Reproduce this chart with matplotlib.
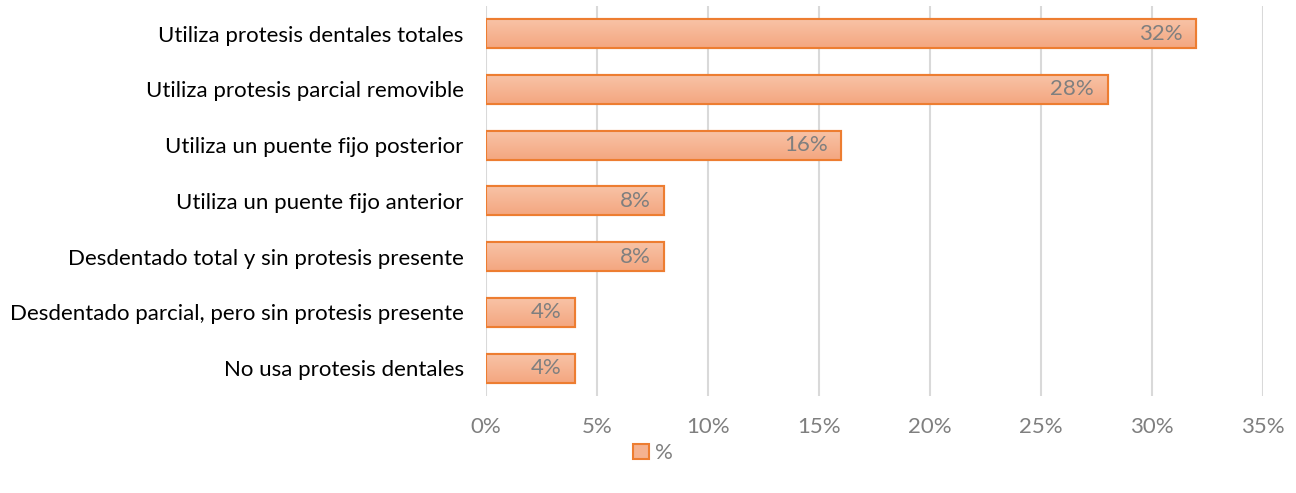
import matplotlib
matplotlib.use("Agg")
import matplotlib.pyplot as plt
import numpy as np
from matplotlib.colors import LinearSegmentedColormap

categories = [
    "Utiliza protesis dentales totales",
    "Utiliza protesis parcial removible",
    "Utiliza un puente fijo posterior",
    "Utiliza un puente fijo anterior",
    "Desdentado total y sin protesis presente",
    "Desdentado parcial, pero sin protesis presente",
    "No usa protesis dentales",
]
values = [32, 28, 16, 8, 8, 4, 4]
xticks = [0, 5, 10, 15, 20, 25, 30, 35]
series_name = "%"

plt.rcParams['font.family'] = ['Lato', 'DejaVu Sans']

fig = plt.figure(figsize=(12.96, 4.93), dpi=100)
ax = fig.add_axes([0.375, 0.197, 0.5995, 0.791])

n = len(categories)
ypos = np.arange(n)[::-1]
bar_h = 0.52
edge = "#ED7D31"
cmap = LinearSegmentedColormap.from_list("g", ["#F4A680", "#F8C3A6"])
grad = np.linspace(0, 1, 64).reshape(-1, 1)

bars = ax.barh(ypos, values, height=bar_h, color="#F5B290", edgecolor=edge,
               linewidth=1.5, zorder=3, label=series_name)
for b in bars:
    x0, y0 = b.get_x(), b.get_y()
    w, h = b.get_width(), b.get_height()
    im = ax.imshow(grad, extent=[x0, x0 + w, y0, y0 + h], aspect='auto',
                   cmap=cmap, origin='lower', zorder=3.5)
    im.set_clip_path(b)
    ax.add_patch(plt.Rectangle((x0, y0), w, h, fill=False, edgecolor=edge,
                               linewidth=1.5, zorder=4))
    ax.text(x0 + w - 0.6, y0 + h / 2, f"{int(w)}%", ha='right', va='center',
            fontsize=16, color="#7F7F7F", zorder=5)

ax.set_xlim(0, 35)
ax.set_ylim(-0.5, n - 0.5)
ax.set_xticks(xticks)
ax.set_xticklabels([f"{t}%" for t in xticks], fontsize=16, color="#7F7F7F")
ax.set_yticks(ypos)
ax.set_yticklabels(categories, fontsize=16, color="#000000")
ax.tick_params(axis='both', length=0)
ax.tick_params(axis='x', pad=15)
ax.tick_params(axis='y', pad=16)
ax.grid(axis='x', color="#D9D9D9", linewidth=1.5, zorder=0)
for s in ax.spines.values():
    s.set_visible(False)
ax.set_axisbelow(True)

handle = plt.Rectangle((0, 0), 1, 1, facecolor="#F5B290", edgecolor=edge, linewidth=1.5)
fig.legend([handle], [series_name], loc='center', bbox_to_anchor=(0.504, 0.081),
           frameon=False, fontsize=16, handlelength=0.7, handleheight=0.7,
           handletextpad=0.3, labelcolor="#7F7F7F")

fig.savefig("out.png", dpi=100)
